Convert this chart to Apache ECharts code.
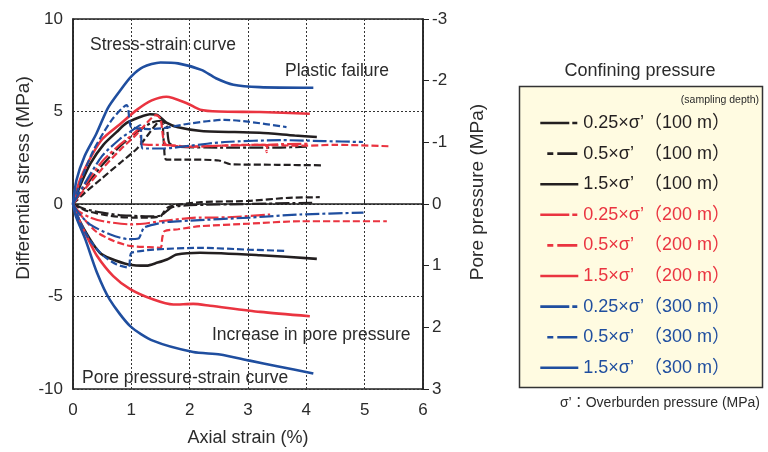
<!DOCTYPE html>
<html>
<head>
<meta charset="utf-8">
<script src="https://cdn.jsdelivr.net/npm/echarts@6/dist/echarts.min.js"></script>
<style>
  html, body { margin: 0; padding: 0; background: #fff; }
  #chart { width: 768px; height: 452px; }
</style>
</head>
<body>
<div id="chart"></div>
<script>
// Triaxial test results — stress-strain and pore pressure-strain curves

const FONT = '"Liberation Sans", Arial, "Noto Sans CJK JP", sans-serif';

const xTicks = [0, 1, 2, 3, 4, 5, 6];
const stressTicks = [-10, -5, 0, 5, 10];
const poreTicks = [-3, -2, -1, 0, 1, 2, 3];

// Differential stress (MPa) vs axial strain (%)
const stress100_025 = [[0,0],[0.2,0.9],[0.5,2.1],[0.8,3.1],[1.1,3.9],[1.35,4.4],[1.5,4.5],[1.6,4.3],[1.65,3.3],[1.8,3.1],[2.5,3.05],[3.5,3.05],[4.0,3.1]];
const stress100_05 = [[0,0],[0.2,0.6],[0.5,1.4],[0.8,2.2],[1.1,3.0],[1.3,3.8],[1.45,4.4],[1.52,4.5],[1.56,3.2],[1.6,2.4],[2.0,2.4],[2.5,2.35],[2.7,2.15],[3.5,2.12],[4.29,2.09]];
const stress100_15 = [[0,0],[0.15,1.2],[0.3,2.2],[0.52,3.2],[0.75,3.9],[0.92,4.38],[1.15,4.7],[1.32,4.85],[1.45,4.8],[1.6,4.4],[1.8,4.15],[2.2,3.95],[3.2,3.85],[3.8,3.7],[4.18,3.62]];
const stress200_025 = [[0,0],[0.2,1.0],[0.5,2.3],[0.8,3.2],[1.0,3.7],[1.15,4.1],[1.17,3.3],[1.3,3.2],[1.55,3.2],[2.0,3.1],[2.5,3.15],[3.3,3.2],[3.32,2.8],[3.35,3.2],[4.06,3.25]];
const stress200_05 = [[0,0],[0.2,0.8],[0.5,1.9],[0.8,2.9],[1.1,3.8],[1.3,4.5],[1.42,4.8],[1.5,4.6],[1.55,3.5],[1.6,3.2],[2.0,3.1],[3.0,3.2],[4.0,3.15],[4.5,3.2],[5.43,3.12]];
const stress200_15 = [[0,0],[0.12,1.3],[0.3,2.5],[0.5,3.5],[0.8,4.3],[1.1,5.1],[1.35,5.6],[1.6,5.8],[1.95,5.45],[2.18,5.1],[2.5,5.0],[3.2,4.97],[4.06,4.88]];
const stress300_025 = [[0,0],[0.2,1.1],[0.5,2.6],[0.8,3.5],[1.0,3.95],[1.15,4.25],[1.2,3.0],[1.55,3.0],[2.0,3.15],[2.6,3.35],[3.6,3.45],[4.3,3.4],[4.97,3.35]];
const stress300_05 = [[0,0],[0.2,1.8],[0.35,2.9],[0.52,3.84],[0.69,4.65],[0.92,5.35],[0.97,4.5],[1.0,4.15],[1.3,4.05],[1.55,4.1],[2.0,4.35],[2.6,4.55],[3.0,4.45],[3.66,4.16]];
const stress300_15 = [[0,0],[0.06,1.3],[0.2,2.6],[0.4,3.8],[0.6,5.2],[0.8,6.1],[1.0,6.9],[1.2,7.4],[1.5,7.65],[1.8,7.6],[2.2,7.25],[2.45,6.8],[2.75,6.45],[3.2,6.32],[4.12,6.28]];

// Pore pressure (MPa) vs axial strain (%)
const pore100_025 = [[0,0],[0.2,0.08],[0.5,0.14],[0.8,0.18],[1.0,0.19],[1.3,0.2],[1.5,0.19],[1.6,0.12],[1.7,0.05],[2.0,0.02],[3.0,0.0],[4.1,-0.02]];
const pore100_05 = [[0,0],[0.2,0.1],[0.5,0.17],[0.8,0.21],[1.0,0.22],[1.3,0.22],[1.5,0.2],[1.55,0.14],[1.62,0.06],[1.75,0.02],[2.2,-0.03],[3.0,-0.05],[3.7,-0.1],[4.23,-0.11]];
const pore100_15 = [[0,0],[0.1,0.25],[0.29,0.57],[0.46,0.79],[0.63,0.88],[0.95,0.98],[1.26,1.0],[1.45,0.95],[1.61,0.9],[1.78,0.82],[2.18,0.79],[3.21,0.83],[4.18,0.89]];
const pore200_025 = [[0,0],[0.1,0.12],[0.3,0.22],[0.52,0.28],[0.98,0.33],[1.2,0.32],[1.49,0.28],[2.18,0.22],[2.46,0.22],[3.38,0.17]];
const pore200_05 = [[0,0],[0.15,0.2],[0.4,0.45],[0.7,0.6],[0.98,0.68],[1.3,0.7],[1.5,0.71],[1.53,0.55],[1.57,0.44],[1.8,0.41],[2.18,0.36],[3.0,0.32],[3.89,0.28],[4.5,0.28],[5.38,0.28]];
const pore200_15 = [[0,0],[0.1,0.25],[0.25,0.55],[0.41,0.84],[0.69,1.17],[0.98,1.38],[1.38,1.55],[1.72,1.63],[2.06,1.62],[2.35,1.65],[3.21,1.75],[4.06,1.82]];
const pore300_025 = [[0,0],[0.1,0.15],[0.29,0.33],[0.63,0.49],[0.95,0.57],[1.12,0.56],[1.18,0.45],[1.22,0.38],[1.55,0.3],[2.0,0.27],[3.03,0.22],[3.89,0.17],[4.98,0.14]];
const pore300_05 = [[0,0],[0.15,0.35],[0.3,0.6],[0.52,0.84],[0.75,0.98],[0.95,1.03],[0.98,0.85],[1.0,0.79],[1.38,0.74],[2.18,0.71],[3.0,0.74],[3.66,0.76]];
const pore300_15 = [[0,0],[0.05,0.2],[0.21,0.57],[0.41,1.11],[0.63,1.55],[0.98,1.98],[1.38,2.22],[2.06,2.4],[2.52,2.44],[3.03,2.54],[3.5,2.63],[4.12,2.75]];

const legendNames = [
  '0.25×σ’（100 m）', '0.5×σ’  （100 m）', '1.5×σ’  （100 m）',
  '0.25×σ’（200 m）', '0.5×σ’  （200 m）', '1.5×σ’  （200 m）',
  '0.25×σ’（300 m）', '0.5×σ’  （300 m）', '1.5×σ’  （300 m）'
];

const BLACK = '#231f20', RED = '#ea3440', BLUE = '#1f4e9f';
const colors = [BLACK, BLACK, BLACK, RED, RED, RED, BLUE, BLUE, BLUE];
const dashes = { '0.25': [14, 3, 3, 3], '0.5': [7, 3], '1.5': 'solid' };
const stressData = [stress100_025, stress100_05, stress100_15, stress200_025, stress200_05, stress200_15, stress300_025, stress300_05, stress300_15];
const poreData = [pore100_025, pore100_05, pore100_15, pore200_025, pore200_05, pore200_15, pore300_025, pore300_05, pore300_15];

function dashOf(name) {
  return dashes[name.split('×')[0]];
}

const series = [];
legendNames.forEach((name, i) => {
  const base = {
    name, type: 'line', symbol: 'none', smooth: 0.25,
    lineStyle: { color: colors[i], width: dashOf(name) === 'solid' ? 2.6 : 2.2, type: dashOf(name) },
    itemStyle: { color: colors[i] },
    z: 3
  };
  series.push({ ...base, xAxisIndex: 0, yAxisIndex: 0, data: stressData[i] });
  series.push({ ...base, xAxisIndex: 0, yAxisIndex: 1, data: poreData[i] });
});

// legend samples: 0.25 = long dash + tick, 0.5 = short + long dash
const legendData = legendNames.map((name, i) => {
  const k = name.split('×')[0];
  let ls = { type: 'solid', width: 2.6, dashOffset: 0 };
  if (k === '0.25') ls = { type: [29, 3, 5, 1], dashOffset: 0, width: 2.6 };
  if (k === '0.5') ls = { type: [6, 4, 20, 8], dashOffset: -7, width: 2.6 };
  return { name, lineStyle: ls, itemStyle: { opacity: 0 }, textStyle: { color: colors[i] } };
});

const splitStyle = { lineStyle: { color: '#333', width: 1, type: [2, 2] } };
const labelStyle = { color: '#2b2b2b', fontSize: 17, fontFamily: FONT };
const txt = '#2b2b2b';

const option = {
  animation: false,
  backgroundColor: '#fff',
  grid: { left: 73, right: 345, top: 19, bottom: 62, show: true, borderColor: '#222', borderWidth: 1.5 },
  xAxis: {
    type: 'value', min: xTicks[0], max: xTicks[xTicks.length - 1], interval: 1,
    name: 'Axial strain (%)', nameLocation: 'middle', nameGap: 40,
    nameTextStyle: { color: txt, fontSize: 18, fontFamily: FONT },
    axisLine: { lineStyle: { color: '#222', width: 1.5 } },
    axisTick: { inside: true, length: 5, lineStyle: { color: '#222' } },
    axisLabel: { ...labelStyle, margin: 13 },
    splitLine: splitStyle
  },
  yAxis: [{
    type: 'value', min: stressTicks[0], max: stressTicks[stressTicks.length - 1], interval: 5, position: 'left',
    axisLine: { lineStyle: { color: '#222', width: 1.5 } },
    axisTick: { show: false },
    axisLabel: { ...labelStyle, margin: 10 },
    splitLine: splitStyle
  }, {
    type: 'value', min: poreTicks[0], max: poreTicks[poreTicks.length - 1], interval: 1, inverse: true, position: 'right',
    axisLine: { lineStyle: { color: '#222', width: 1.5 } },
    axisTick: { inside: false, length: 6, lineStyle: { color: '#222' } },
    axisLabel: { ...labelStyle, margin: 9 },
    splitLine: { show: false }
  }],
  legend: {
    orient: 'vertical', left: 534, top: 109, z: 10,
    itemWidth: 38, itemHeight: 14, itemGap: 12.6,
    selectedMode: false,
    textStyle: { fontSize: 18, lineHeight: 18, fontFamily: FONT },
    data: legendData
  },
  graphic: [
    { type: 'rect', z: -1, shape: { x: 519.5, y: 86.5, width: 243, height: 301 },
      style: { fill: '#fffbe1', stroke: '#333', lineWidth: 1.5 } },
    { type: 'text', rotation: Math.PI / 2, x: 24, y: 178,
      style: { text: 'Differential stress (MPa)', align: 'center', verticalAlign: 'middle', font: '19px ' + FONT, fill: txt } },
    { type: 'text', rotation: Math.PI / 2, x: 478, y: 192,
      style: { text: 'Pore pressure (MPa)', align: 'center', verticalAlign: 'middle', font: '19px ' + FONT, fill: txt } },
    { type: 'text', style: { text: 'Confining pressure', x: 640, y: 71, align: 'center', verticalAlign: 'middle', font: '18px ' + FONT, fill: txt } },
    { type: 'text', style: { text: '(sampling depth)', x: 759, y: 100, align: 'right', verticalAlign: 'middle', font: '10.5px ' + FONT, fill: txt } },
    { type: 'text', style: { text: 'σ’：Overburden pressure (MPa)', x: 760, y: 403, align: 'right', verticalAlign: 'middle', font: '14px ' + FONT, fill: txt } },
    { type: 'text', style: { text: 'Stress-strain curve', x: 90, y: 45, verticalAlign: 'middle', font: '17.5px ' + FONT, fill: txt } },
    { type: 'text', style: { text: 'Plastic failure', x: 285, y: 71, verticalAlign: 'middle', font: '17.5px ' + FONT, fill: txt } },
    { type: 'text', style: { text: 'Increase in pore pressure', x: 212, y: 335, verticalAlign: 'middle', font: '17.5px ' + FONT, fill: txt } },
    { type: 'text', style: { text: 'Pore pressure-strain curve', x: 82, y: 378, verticalAlign: 'middle', font: '17.5px ' + FONT, fill: txt } }
  ],
  series
};

const chart = echarts.init(document.getElementById('chart'), null, { renderer: 'canvas' });
chart.setOption(option);
</script>
</body>
</html>
